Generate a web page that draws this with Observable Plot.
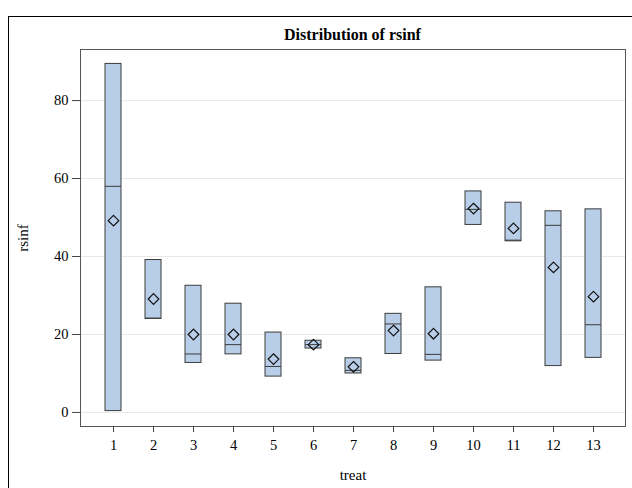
<!DOCTYPE html>
<html>
<head>
<meta charset="utf-8">
<script src="https://cdn.jsdelivr.net/npm/d3@7"></script>
<script src="https://cdn.jsdelivr.net/npm/@observablehq/plot@0.6"></script>
<style>
  html, body { margin: 0; padding: 0; background: #fff; }
  #wrap { position: relative; width: 632px; height: 488px; overflow: hidden; font-family: "Liberation Serif", "DejaVu Serif", serif; }
  #border { position: absolute; left: 8px; top: 16px; width: 640px; height: 500px; border-left: 1px solid #000; border-top: 1px solid #000; }
  #title { position: absolute; left: 80px; width: 545px; top: 26px; line-height: 18px; text-align: center; font-weight: bold; font-size: 16px; color: #000; }
  #chart { position: absolute; left: 0; top: 0; }
</style>
</head>
<body>
<div id="wrap">
  <div id="border"></div>
  <div id="chart"></div>
  <div id="title">Distribution of rsinf</div>
</div>
<script>
const treats  = [1, 2, 3, 4, 5, 6, 7, 8, 9, 10, 11, 12, 13];
const maxs    = [89.4, 39.1, 32.5, 27.9, 20.5, 18.4, 13.9, 25.3, 32.1, 56.7, 53.8, 51.6, 52.1];
const mins    = [0.35, 24.0, 12.7, 14.9, 9.2, 16.4, 10.0, 15.0, 13.3, 48.1, 43.9, 11.9, 14.0];
const medians = [58.0, 24.2, 15.0, 17.4, 11.8, 17.4, 10.8, 22.7, 14.9, 52.1, 44.2, 48.0, 22.5];
const means   = [49.2, 29.1, 20.0, 20.0, 13.7, 17.4, 11.7, 21.0, 20.2, 52.3, 47.2, 37.2, 29.7];
const yTicks  = [0, 20, 40, 60, 80];

const data = treats.map((t, i) => ({treat: t, min: mins[i], max: maxs[i], median: medians[i], mean: means[i]}));

const plot = Plot.plot({
  width: 632,
  height: 488,
  marginTop: 49,
  marginLeft: 80,
  marginRight: 7,
  marginBottom: 62,
  style: {fontFamily: "'Liberation Serif', 'DejaVu Serif', serif", fontSize: "14.5px", color: "#000", background: "transparent"},
  x: {type: "band", domain: treats, paddingInner: 0.6, paddingOuter: 0.6, align: 0.5},
  y: {domain: [-3.6, 93.1]},
  marks: [
    Plot.gridY(yTicks, {stroke: "#e8e8e8", strokeOpacity: 1}),
    Plot.barY(data, {x: "treat", y1: "min", y2: "max", fill: "#b8cee8", stroke: "#3c3c3c", strokeWidth: 1}),
    Plot.tickY(data, {x: "treat", y: "median", stroke: "#3c3c3c", strokeWidth: 1}),
    Plot.dot(data, {x: "treat", y: "mean", symbol: "diamond2", r: 4.8, stroke: "#111", strokeWidth: 1.2}),
    Plot.frame({stroke: "#555", strokeWidth: 1}),
    Plot.axisY({ticks: yTicks, tickSize: 8, tickPadding: 4, stroke: "#444", fontSize: 14.5, label: null}),
    Plot.axisY({ticks: [], label: "rsinf", labelAnchor: "center", labelOffset: 63, labelArrow: "none", fontSize: 15}),
    Plot.axisX({tickSize: 6, tickPadding: 7, stroke: "#444", fontSize: 14.5, label: null}),
    Plot.axisX({ticks: [], label: "treat", labelAnchor: "center", labelOffset: 53, labelArrow: "none", fontSize: 15})
  ]
});
document.getElementById("chart").appendChild(plot);
</script>
</body>
</html>
